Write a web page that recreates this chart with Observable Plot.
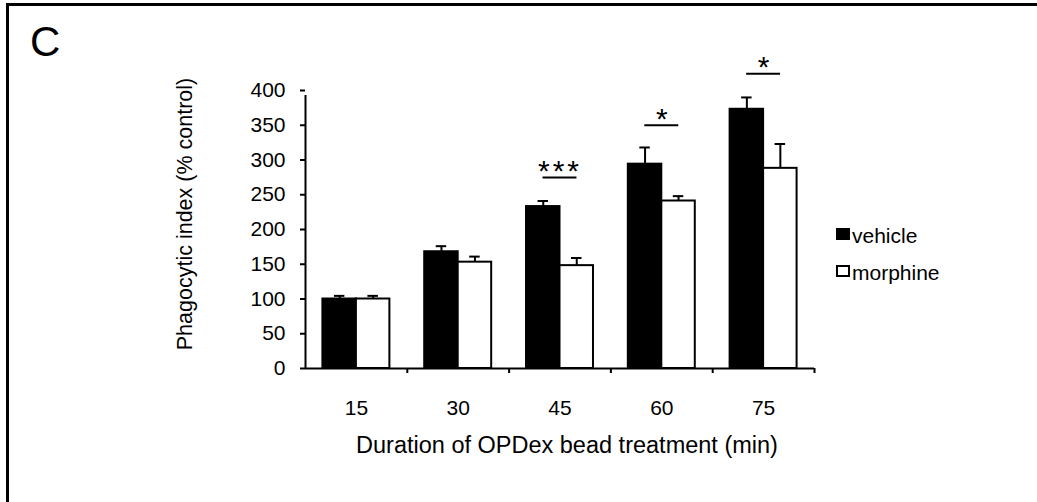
<!DOCTYPE html>
<html><head><meta charset="utf-8">
<script src="https://cdn.jsdelivr.net/npm/d3@7"></script>
<script src="https://cdn.jsdelivr.net/npm/@observablehq/plot@0.6"></script>
<style>
html,body{margin:0;padding:0;background:#fff;}
#wrap{position:relative;width:1037px;height:502px;overflow:hidden;background:#fff;}
#chart{position:absolute;left:0;top:0;}
#frame{position:absolute;left:6px;top:3px;width:1100px;height:600px;border-top:3px solid #000;border-left:3px solid #000;box-sizing:border-box;}
#over{position:absolute;left:0;top:0;pointer-events:none;}
</style></head><body>
<div id="wrap"><div id="chart"></div><div id="frame"></div>
<svg id="over" width="1037" height="502" font-family="Liberation Sans, Arial, sans-serif" fill="#000">
  <text x="30" y="56" font-size="42">C</text>
  <text transform="translate(192,214) rotate(-90)" text-anchor="middle" font-size="21.5">Phagocytic index (% control)</text>
  <text x="567" y="453" text-anchor="middle" font-size="23.5">Duration of OPDex bead treatment (min)</text>
  <g id="legend"></g>
</svg></div>
<script>
// ---- data ----
const durations = [15, 30, 45, 60, 75];
const treatments = ["vehicle", "morphine"];
const vehicleMean = [100, 168, 233, 294, 373];
const vehicleSem  = [4.5, 8, 8, 24, 17];
const morphineMean = [100, 153, 148, 241, 288];
const morphineSem  = [4.5, 8, 11, 7, 35];
const yTicks = [0, 50, 100, 150, 200, 250, 300, 350, 400];
const sigDurations = [45, 60, 75];
const sigLabels = ["***", "*", "*"];
const sigLevels = [275, 350, 424];
const legendColors = ["#000", "#fff"];

const rows = durations.flatMap((d, i) => [
  {duration: d, treatment: "vehicle", mean: vehicleMean[i], sem: vehicleSem[i]},
  {duration: d, treatment: "morphine", mean: morphineMean[i], sem: morphineSem[i]}
]);
const sig = sigDurations.map((d, i) => ({duration: d, label: sigLabels[i], level: sigLevels[i]}));

const W = 1037, H = 502, ML = 305, MR = 223, MT = 90, MB = 134;
const step = (W - ML - MR) / durations.length;

const chart = Plot.plot({
  width: W, height: H,
  marginLeft: ML, marginRight: MR, marginTop: MT, marginBottom: MB,
  style: {fontFamily: "Liberation Sans, Arial, sans-serif", fontSize: "21px", color: "#000", background: "transparent", overflow: "visible"},
  fx: {domain: durations, padding: 0, round: false, label: null},
  x: {domain: treatments, paddingInner: 0, paddingOuter: 0.52, round: false, axis: null, label: null},
  y: {domain: [0, 400], label: null},
  color: {domain: treatments, range: legendColors},
  marks: [
    Plot.ruleY(durations, {fx: d => d, y: () => 0, stroke: "#000", strokeWidth: 2}),
    Plot.barY(rows, {fx: "duration", x: "treatment", y: "mean", fill: "treatment", stroke: "#000", strokeWidth: 2}),
    Plot.ruleX(rows, {fx: "duration", x: "treatment", y1: "mean", y2: d => d.mean + d.sem, stroke: "#000", strokeWidth: 2}),
    Plot.tickY(rows, {fx: "duration", x: "treatment", y: d => d.mean + d.sem, stroke: "#000", strokeWidth: 2, insetLeft: 11.5, insetRight: 11.5}),
    Plot.ruleY(sig, {fx: "duration", y: "level", stroke: "#000", strokeWidth: 2, insetLeft: step / 3, insetRight: step / 3}),
    Plot.text(sig, {fx: "duration", y: "level", text: "label", fontSize: 30, lineAnchor: "middle", dy: -6, fill: "#000"}),
    Plot.ruleX([durations[0]], {fx: d => d, x: null, y1: 0, y2: 400, insetBottom: -5, dx: -step / 2, stroke: "#000", strokeWidth: 2}),
    Plot.axisY({ticks: yTicks, tickSize: 5, tickPadding: 15, fontSize: 21, label: null, strokeWidth: 2}),
    Plot.axisFx({anchor: "bottom", tickSize: 5, tickFormat: () => "", dx: step / 2, label: null, strokeWidth: 2}),
    Plot.axisFx({anchor: "bottom", tickSize: 0, tickPadding: 32, fontSize: 21, label: null})
  ]
});
document.getElementById("chart").appendChild(chart);
d3.select(chart).selectAll("text").filter(function () { return this.textContent === "***"; }).attr("letter-spacing", 3);

// legend
const lg = d3.select("#legend");
const legendY = [228, 265];
treatments.forEach((t, i) => {
  lg.append("rect").attr("x", 837).attr("y", legendY[i] + 1).attr("width", 12).attr("height", 10)
    .attr("fill", legendColors[i]).attr("stroke", "#000").attr("stroke-width", 2);
  lg.append("text").attr("x", 852).attr("y", legendY[i] + 15).attr("font-size", 21).text(t);
});
</script>
</body></html>
